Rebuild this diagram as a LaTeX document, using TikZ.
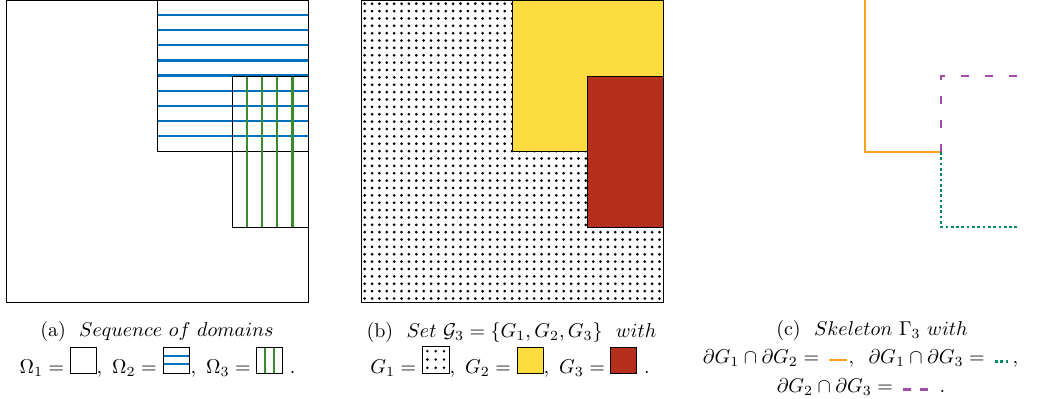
\documentclass[tikz,border=0pt]{standalone}
\usepackage{amsmath,amssymb}
\usepackage{xcolor}
\usepackage{tikz}
\usetikzlibrary{positioning}

\definecolor{omblue}{RGB}{0,114,189}
\definecolor{omgreen}{RGB}{58,138,46}
\definecolor{gyellow}{RGB}{253,220,63}
\definecolor{gred}{RGB}{182,47,29}
\definecolor{skorange}{RGB}{247,162,28}
\definecolor{skpurple}{RGB}{160,75,165}
\definecolor{skteal}{RGB}{0,137,109}

\tikzset{
  frame/.style={draw=black, line width=0.5pt},
  hline/.style={draw=omblue, line width=1.1pt},
  vline/.style={draw=omgreen, line width=1.1pt},
  gtwo/.style={frame, fill=gyellow},
  gthree/.style={frame, fill=gred},
  skA/.style={draw=skorange, line width=1.3pt},
  skB/.style={draw=skteal, line width=1.4pt, dash pattern=on 1.35pt off 1.3pt},
  skC/.style={draw=skpurple, line width=1.4pt, dash pattern=on 4pt off 8pt},
  caption/.style={anchor=base, inner sep=0pt}
}

% small legend pictures used inside the captions
\newcommand{\legOmA}{\tikz[baseline=0pt]\draw[frame] (0pt,0pt) rectangle (13pt,13pt);}
\newcommand{\legOmB}{\tikz[baseline=0pt]{\draw[hline] (0pt,4.33pt) -- (13pt,4.33pt);
  \draw[hline] (0pt,8.67pt) -- (13pt,8.67pt); \draw[frame] (0pt,0pt) rectangle (13pt,13pt);}}
\newcommand{\legOmC}{\tikz[baseline=0pt]{\draw[vline] (4.33pt,0pt) -- (4.33pt,13pt);
  \draw[vline] (8.67pt,0pt) -- (8.67pt,13pt); \draw[frame] (0pt,0pt) rectangle (13pt,13pt);}}
\newcommand{\legGA}{\tikz[baseline=0pt]{\draw[frame] (0pt,0pt) rectangle (13.5pt,13.5pt);
  \foreach \a in {2.6,6.75,10.9} \foreach \b in {2.6,6.75,10.9}
    \fill (\a pt,\b pt) circle[radius=0.7pt];}}
\newcommand{\legGB}{\tikz[baseline=0pt]\draw[gtwo] (0pt,0pt) rectangle (13pt,13pt);}
\newcommand{\legGC}{\tikz[baseline=0pt]\draw[gthree] (0pt,0pt) rectangle (13pt,13pt);}
\newcommand{\legSkA}{\tikz[baseline=0pt]\draw[skA] (0pt,1.5pt) -- (9pt,1.5pt);}
\newcommand{\legSkB}{\tikz[baseline=0pt]\draw[skB] (0pt,0.7pt) -- (6.4pt,0.7pt);}
\newcommand{\legSkC}{\tikz[baseline=0pt]\draw[skC, dash pattern=on 4pt off 4.5pt] (0pt,1.2pt) -- (12.5pt,1.2pt);}

\begin{document}
\begin{tikzpicture}[x=0.5pt, y=-0.5pt]
  \useasboundingbox (0,0) rectangle (1046,398);

  % (a) sequence of domains
  \begin{scope}[shift={(6,0)}]
    \draw[frame] (0,0) rectangle (302,302);
    \foreach \k in {1,...,9}
      \draw[hline] (151,15.1*\k) -- (302,15.1*\k);
    \draw[frame] (151,0) rectangle (302,151);
    \foreach \k in {1,...,4}
      \draw[vline] (226+15.1*\k,76) -- (226+15.1*\k,227);
    \draw[frame] (226,76) rectangle (302,227);
  \end{scope}
  \node[caption] (capa1) at (157,336) {(a)~ $Sequence\ of\ domains$};
  \node[caption] (capa2) at (157.5,373) {$\Omega_1 = {}$\legOmA$,\ \Omega_2 = {}$\legOmB$,\ \Omega_3 = {}$\legOmC\ .};

  % (b) the set G_3
  \begin{scope}[shift={(361,0)}]
    \draw[frame] (0,0) rectangle (302,302);
    \foreach \i in {0,...,40}
      \foreach \j in {0,...,40}
        \fill (3.7+7.37*\i,3.7+7.37*\j) circle[radius=0.75pt];
    \draw[gtwo] (151,0) rectangle (302,151);
    \draw[gthree] (226,76) rectangle (302,227);
  \end{scope}
  \node[caption] (capb1) at (511.5,337) {(b)~ $Set\ \mathcal{G}_3 = \{G_1, G_2, G_3\}\ \ with$};
  \node[caption] (capb2) at (510,373) {$G_1 = {}$\legGA$,\ G_2 = {}$\legGB$,\ G_3 = {}$\legGC\ .};

  % (c) skeleton
  \begin{scope}[shift={(714,0)}]
    \draw[skA] (151,0) -- (151,152) -- (227,152);
    \draw[skC] (227,152) -- (227,76) -- (303,76);
    \draw[skB] (227,152) -- (227,227) -- (303,227);
  \end{scope}
  \node[caption] (capc1) at (872,335) {(c)~ $Skeleton\ \Gamma_3\ with$};
  \node[caption] (capc2) at (860.5,363) {$\partial G_1 \cap \partial G_2 = {}$\,\legSkA$,\;\; \partial G_1 \cap \partial G_3 = {}$\,\legSkB\,$,$};
  \node[caption] (capc3) at (861,392) {$\partial G_2 \cap \partial G_3 = {}$\,\legSkC\ \,.};
\end{tikzpicture}
\end{document}
